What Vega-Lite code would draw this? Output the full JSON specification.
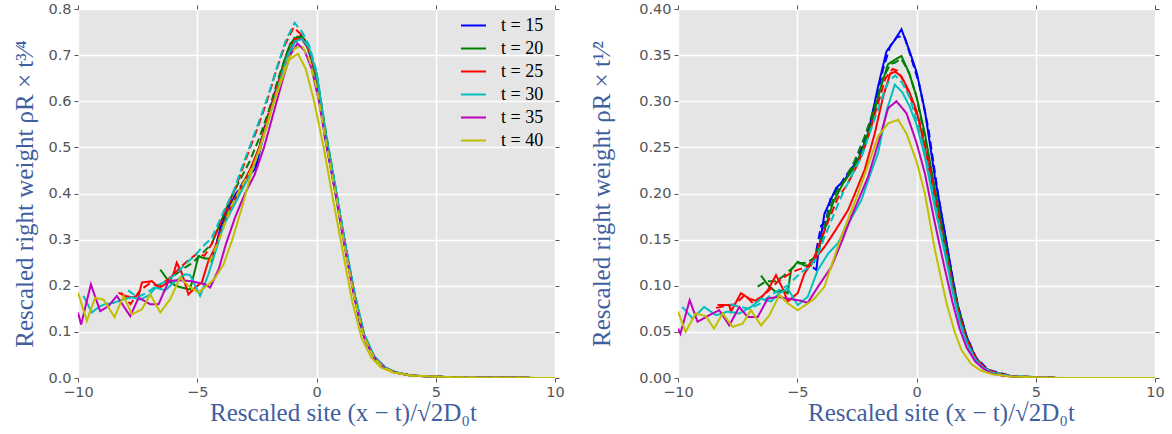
{
"$schema": "https://vega.github.io/schema/vega-lite/v6.json",
"background": "white",
"padding": {"left": 12, "top": 1, "right": 5, "bottom": 5},
"spacing": 24,
"config": {
  "view": {"fill": "#e5e5e5", "stroke": null},
  "axis": {"domain": false, "gridColor": "#ffffff", "gridWidth": 1.5, "tickColor": "#555555", "tickSize": 4, "labelColor": "#555555", "labelFont": "DejaVu Sans", "labelFontSize": 14.5, "labelPadding": 3, "labelFlush": false, "labelOverlap": false, "titleFont": "Liberation Serif", "titleFontSize": 25, "titleFontWeight": "normal", "titleColor": "#3f5f9f"}
},
"resolve": {"scale": {"color": "independent", "strokeDash": "independent"}},
"datasets": {
"pts": [
{"panel":"A","t":15,"style":"s","x":-4.4,"y":0.25},{"panel":"A","t":15,"style":"s","x":-4.2,"y":0.29},{"panel":"A","t":15,"style":"s","x":-4.0,"y":0.33},{"panel":"A","t":15,"style":"s","x":-3.8,"y":0.36},{"panel":"A","t":15,"style":"s","x":-3.6,"y":0.38},{"panel":"A","t":15,"style":"s","x":-3.2,"y":0.41},{"panel":"A","t":15,"style":"s","x":-2.8,"y":0.44},{"panel":"A","t":15,"style":"s","x":-2.55,"y":0.455},{"panel":"A","t":15,"style":"s","x":-2.2,"y":0.53},{"panel":"A","t":15,"style":"s","x":-1.8,"y":0.6},{"panel":"A","t":15,"style":"s","x":-1.5,"y":0.66},{"panel":"A","t":15,"style":"s","x":-1.2,"y":0.7},{"panel":"A","t":15,"style":"s","x":-0.9,"y":0.73},{"panel":"A","t":15,"style":"s","x":-0.64,"y":0.742},{"panel":"A","t":15,"style":"s","x":-0.3,"y":0.71},{"panel":"A","t":15,"style":"s","x":0,"y":0.65},{"panel":"A","t":15,"style":"s","x":0.36,"y":0.52},{"panel":"A","t":15,"style":"s","x":0.78,"y":0.405},{"panel":"A","t":15,"style":"s","x":1.06,"y":0.32},{"panel":"A","t":15,"style":"s","x":1.41,"y":0.225},{"panel":"A","t":15,"style":"s","x":1.83,"y":0.117},{"panel":"A","t":15,"style":"s","x":2.1,"y":0.075},{"panel":"A","t":15,"style":"s","x":2.46,"y":0.044},{"panel":"A","t":15,"style":"s","x":2.9,"y":0.022},{"panel":"A","t":15,"style":"s","x":3.3,"y":0.012},{"panel":"A","t":15,"style":"s","x":4,"y":0.005},{"panel":"A","t":15,"style":"s","x":6,"y":0.001},{"panel":"A","t":15,"style":"s","x":10,"y":0},
{"panel":"A","t":15,"style":"d","x":-4.3,"y":0.27},{"panel":"A","t":15,"style":"d","x":-3.9,"y":0.35},{"panel":"A","t":15,"style":"d","x":-3.5,"y":0.39},{"panel":"A","t":15,"style":"d","x":-3.0,"y":0.43},{"panel":"A","t":15,"style":"d","x":-2.6,"y":0.46},{"panel":"A","t":15,"style":"d","x":-2.2,"y":0.54},{"panel":"A","t":15,"style":"d","x":-1.8,"y":0.61},{"panel":"A","t":15,"style":"d","x":-1.4,"y":0.67},{"panel":"A","t":15,"style":"d","x":-1.0,"y":0.72},{"panel":"A","t":15,"style":"d","x":-0.7,"y":0.74},{"panel":"A","t":15,"style":"d","x":-0.4,"y":0.72},{"panel":"A","t":15,"style":"d","x":0,"y":0.655},{"panel":"A","t":15,"style":"d","x":0.4,"y":0.52},{"panel":"A","t":15,"style":"d","x":0.8,"y":0.4},{"panel":"A","t":15,"style":"d","x":1.2,"y":0.29},{"panel":"A","t":15,"style":"d","x":1.6,"y":0.18},{"panel":"A","t":15,"style":"d","x":2.0,"y":0.09},{"panel":"A","t":15,"style":"d","x":2.4,"y":0.046},{"panel":"A","t":15,"style":"d","x":2.8,"y":0.024},{"panel":"A","t":15,"style":"d","x":3.3,"y":0.012},{"panel":"A","t":15,"style":"d","x":4,"y":0.005},{"panel":"A","t":15,"style":"d","x":6,"y":0.001},{"panel":"A","t":15,"style":"d","x":10,"y":0},
{"panel":"A","t":20,"style":"s","x":-6.55,"y":0.235},{"panel":"A","t":20,"style":"s","x":-6.2,"y":0.21},{"panel":"A","t":20,"style":"s","x":-5.9,"y":0.2},{"panel":"A","t":20,"style":"s","x":-5.65,"y":0.196},{"panel":"A","t":20,"style":"s","x":-5.3,"y":0.192},{"panel":"A","t":20,"style":"s","x":-4.95,"y":0.264},{"panel":"A","t":20,"style":"s","x":-4.67,"y":0.259},{"panel":"A","t":20,"style":"s","x":-4.36,"y":0.259},{"panel":"A","t":20,"style":"s","x":-4.1,"y":0.3},{"panel":"A","t":20,"style":"s","x":-3.8,"y":0.35},{"panel":"A","t":20,"style":"s","x":-3.4,"y":0.39},{"panel":"A","t":20,"style":"s","x":-3.0,"y":0.43},{"panel":"A","t":20,"style":"s","x":-2.6,"y":0.47},{"panel":"A","t":20,"style":"s","x":-2.2,"y":0.53},{"panel":"A","t":20,"style":"s","x":-1.8,"y":0.6},{"panel":"A","t":20,"style":"s","x":-1.4,"y":0.68},{"panel":"A","t":20,"style":"s","x":-1.1,"y":0.725},{"panel":"A","t":20,"style":"s","x":-0.8,"y":0.74},{"panel":"A","t":20,"style":"s","x":-0.5,"y":0.735},{"panel":"A","t":20,"style":"s","x":-0.2,"y":0.69},{"panel":"A","t":20,"style":"s","x":0.1,"y":0.62},{"panel":"A","t":20,"style":"s","x":0.4,"y":0.52},{"panel":"A","t":20,"style":"s","x":0.8,"y":0.41},{"panel":"A","t":20,"style":"s","x":1.2,"y":0.29},{"panel":"A","t":20,"style":"s","x":1.6,"y":0.175},{"panel":"A","t":20,"style":"s","x":2.0,"y":0.09},{"panel":"A","t":20,"style":"s","x":2.4,"y":0.047},{"panel":"A","t":20,"style":"s","x":2.8,"y":0.024},{"panel":"A","t":20,"style":"s","x":3.3,"y":0.012},{"panel":"A","t":20,"style":"s","x":4,"y":0.005},{"panel":"A","t":20,"style":"s","x":6,"y":0.001},{"panel":"A","t":20,"style":"s","x":10,"y":0},
{"panel":"A","t":20,"style":"d","x":-6.3,"y":0.205},{"panel":"A","t":20,"style":"d","x":-5.9,"y":0.225},{"panel":"A","t":20,"style":"d","x":-5.5,"y":0.24},{"panel":"A","t":20,"style":"d","x":-5.2,"y":0.25},{"panel":"A","t":20,"style":"d","x":-4.8,"y":0.27},{"panel":"A","t":20,"style":"d","x":-4.4,"y":0.29},{"panel":"A","t":20,"style":"d","x":-4.0,"y":0.34},{"panel":"A","t":20,"style":"d","x":-3.6,"y":0.39},{"panel":"A","t":20,"style":"d","x":-3.2,"y":0.43},{"panel":"A","t":20,"style":"d","x":-2.8,"y":0.47},{"panel":"A","t":20,"style":"d","x":-2.4,"y":0.52},{"panel":"A","t":20,"style":"d","x":-2.0,"y":0.58},{"panel":"A","t":20,"style":"d","x":-1.6,"y":0.65},{"panel":"A","t":20,"style":"d","x":-1.2,"y":0.71},{"panel":"A","t":20,"style":"d","x":-0.9,"y":0.74},{"panel":"A","t":20,"style":"d","x":-0.6,"y":0.74},{"panel":"A","t":20,"style":"d","x":-0.3,"y":0.71},{"panel":"A","t":20,"style":"d","x":0,"y":0.66},{"panel":"A","t":20,"style":"d","x":0.4,"y":0.53},{"panel":"A","t":20,"style":"d","x":0.8,"y":0.41},{"panel":"A","t":20,"style":"d","x":1.2,"y":0.29},{"panel":"A","t":20,"style":"d","x":1.6,"y":0.18},{"panel":"A","t":20,"style":"d","x":2.0,"y":0.095},{"panel":"A","t":20,"style":"d","x":2.4,"y":0.048},{"panel":"A","t":20,"style":"d","x":2.8,"y":0.025},{"panel":"A","t":20,"style":"d","x":3.3,"y":0.012},{"panel":"A","t":20,"style":"d","x":4,"y":0.005},{"panel":"A","t":20,"style":"d","x":6,"y":0.001},{"panel":"A","t":20,"style":"d","x":10,"y":0},
{"panel":"A","t":25,"style":"s","x":-8.3,"y":0.185},{"panel":"A","t":25,"style":"s","x":-8.02,"y":0.178},{"panel":"A","t":25,"style":"s","x":-7.74,"y":0.175},{"panel":"A","t":25,"style":"s","x":-7.46,"y":0.178},{"panel":"A","t":25,"style":"s","x":-7.32,"y":0.207},{"panel":"A","t":25,"style":"s","x":-6.9,"y":0.21},{"panel":"A","t":25,"style":"s","x":-6.6,"y":0.195},{"panel":"A","t":25,"style":"s","x":-6.3,"y":0.205},{"panel":"A","t":25,"style":"s","x":-6.0,"y":0.225},{"panel":"A","t":25,"style":"s","x":-5.86,"y":0.25},{"panel":"A","t":25,"style":"s","x":-5.65,"y":0.228},{"panel":"A","t":25,"style":"s","x":-5.37,"y":0.181},{"panel":"A","t":25,"style":"s","x":-5.09,"y":0.196},{"panel":"A","t":25,"style":"s","x":-4.81,"y":0.207},{"panel":"A","t":25,"style":"s","x":-4.53,"y":0.254},{"panel":"A","t":25,"style":"s","x":-4.25,"y":0.283},{"panel":"A","t":25,"style":"s","x":-4.0,"y":0.32},{"panel":"A","t":25,"style":"s","x":-3.6,"y":0.37},{"panel":"A","t":25,"style":"s","x":-3.2,"y":0.41},{"panel":"A","t":25,"style":"s","x":-2.8,"y":0.45},{"panel":"A","t":25,"style":"s","x":-2.4,"y":0.5},{"panel":"A","t":25,"style":"s","x":-2.0,"y":0.57},{"panel":"A","t":25,"style":"s","x":-1.6,"y":0.64},{"panel":"A","t":25,"style":"s","x":-1.2,"y":0.7},{"panel":"A","t":25,"style":"s","x":-0.9,"y":0.735},{"panel":"A","t":25,"style":"s","x":-0.6,"y":0.735},{"panel":"A","t":25,"style":"s","x":-0.3,"y":0.71},{"panel":"A","t":25,"style":"s","x":0,"y":0.655},{"panel":"A","t":25,"style":"s","x":0.4,"y":0.52},{"panel":"A","t":25,"style":"s","x":0.8,"y":0.405},{"panel":"A","t":25,"style":"s","x":1.2,"y":0.285},{"panel":"A","t":25,"style":"s","x":1.6,"y":0.175},{"panel":"A","t":25,"style":"s","x":2.0,"y":0.09},{"panel":"A","t":25,"style":"s","x":2.4,"y":0.046},{"panel":"A","t":25,"style":"s","x":2.8,"y":0.024},{"panel":"A","t":25,"style":"s","x":3.3,"y":0.012},{"panel":"A","t":25,"style":"s","x":4,"y":0.005},{"panel":"A","t":25,"style":"s","x":6,"y":0.001},{"panel":"A","t":25,"style":"s","x":10,"y":0},
{"panel":"A","t":25,"style":"d","x":-8.2,"y":0.185},{"panel":"A","t":25,"style":"d","x":-7.8,"y":0.16},{"panel":"A","t":25,"style":"d","x":-7.4,"y":0.19},{"panel":"A","t":25,"style":"d","x":-7.0,"y":0.205},{"panel":"A","t":25,"style":"d","x":-6.6,"y":0.2},{"panel":"A","t":25,"style":"d","x":-6.2,"y":0.215},{"panel":"A","t":25,"style":"d","x":-5.8,"y":0.235},{"panel":"A","t":25,"style":"d","x":-5.4,"y":0.254},{"panel":"A","t":25,"style":"d","x":-5.0,"y":0.27},{"panel":"A","t":25,"style":"d","x":-4.7,"y":0.265},{"panel":"A","t":25,"style":"d","x":-4.4,"y":0.29},{"panel":"A","t":25,"style":"d","x":-4.0,"y":0.34},{"panel":"A","t":25,"style":"d","x":-3.6,"y":0.385},{"panel":"A","t":25,"style":"d","x":-3.2,"y":0.44},{"panel":"A","t":25,"style":"d","x":-2.85,"y":0.49},{"panel":"A","t":25,"style":"d","x":-2.45,"y":0.545},{"panel":"A","t":25,"style":"d","x":-2.08,"y":0.6},{"panel":"A","t":25,"style":"d","x":-1.7,"y":0.665},{"panel":"A","t":25,"style":"d","x":-1.3,"y":0.725},{"panel":"A","t":25,"style":"d","x":-0.96,"y":0.76},{"panel":"A","t":25,"style":"d","x":-0.65,"y":0.745},{"panel":"A","t":25,"style":"d","x":-0.3,"y":0.71},{"panel":"A","t":25,"style":"d","x":0,"y":0.66},{"panel":"A","t":25,"style":"d","x":0.4,"y":0.525},{"panel":"A","t":25,"style":"d","x":0.8,"y":0.41},{"panel":"A","t":25,"style":"d","x":1.2,"y":0.29},{"panel":"A","t":25,"style":"d","x":1.6,"y":0.18},{"panel":"A","t":25,"style":"d","x":2.0,"y":0.093},{"panel":"A","t":25,"style":"d","x":2.4,"y":0.048},{"panel":"A","t":25,"style":"d","x":2.8,"y":0.025},{"panel":"A","t":25,"style":"d","x":3.3,"y":0.012},{"panel":"A","t":25,"style":"d","x":4,"y":0.005},{"panel":"A","t":25,"style":"d","x":6,"y":0.001},{"panel":"A","t":25,"style":"d","x":10,"y":0},
{"panel":"A","t":30,"style":"s","x":-9.77,"y":0.178},{"panel":"A","t":30,"style":"s","x":-9.42,"y":0.142},{"panel":"A","t":30,"style":"s","x":-9.1,"y":0.155},{"panel":"A","t":30,"style":"s","x":-8.86,"y":0.16},{"panel":"A","t":30,"style":"s","x":-8.51,"y":0.163},{"panel":"A","t":30,"style":"s","x":-8.1,"y":0.17},{"panel":"A","t":30,"style":"s","x":-7.74,"y":0.175},{"panel":"A","t":30,"style":"s","x":-7.4,"y":0.17},{"panel":"A","t":30,"style":"s","x":-7.0,"y":0.18},{"panel":"A","t":30,"style":"s","x":-6.76,"y":0.196},{"panel":"A","t":30,"style":"s","x":-6.34,"y":0.19},{"panel":"A","t":30,"style":"s","x":-5.92,"y":0.21},{"panel":"A","t":30,"style":"s","x":-5.5,"y":0.225},{"panel":"A","t":30,"style":"s","x":-5.3,"y":0.223},{"panel":"A","t":30,"style":"s","x":-4.88,"y":0.178},{"panel":"A","t":30,"style":"s","x":-4.53,"y":0.225},{"panel":"A","t":30,"style":"s","x":-4.2,"y":0.28},{"panel":"A","t":30,"style":"s","x":-3.9,"y":0.33},{"panel":"A","t":30,"style":"s","x":-3.5,"y":0.37},{"panel":"A","t":30,"style":"s","x":-3.1,"y":0.41},{"panel":"A","t":30,"style":"s","x":-2.7,"y":0.45},{"panel":"A","t":30,"style":"s","x":-2.3,"y":0.51},{"panel":"A","t":30,"style":"s","x":-1.9,"y":0.58},{"panel":"A","t":30,"style":"s","x":-1.5,"y":0.65},{"panel":"A","t":30,"style":"s","x":-1.2,"y":0.7},{"panel":"A","t":30,"style":"s","x":-0.9,"y":0.73},{"panel":"A","t":30,"style":"s","x":-0.6,"y":0.735},{"panel":"A","t":30,"style":"s","x":-0.3,"y":0.715},{"panel":"A","t":30,"style":"s","x":0,"y":0.66},{"panel":"A","t":30,"style":"s","x":0.4,"y":0.525},{"panel":"A","t":30,"style":"s","x":0.8,"y":0.41},{"panel":"A","t":30,"style":"s","x":1.2,"y":0.29},{"panel":"A","t":30,"style":"s","x":1.6,"y":0.18},{"panel":"A","t":30,"style":"s","x":2.0,"y":0.093},{"panel":"A","t":30,"style":"s","x":2.4,"y":0.048},{"panel":"A","t":30,"style":"s","x":2.8,"y":0.025},{"panel":"A","t":30,"style":"s","x":3.3,"y":0.013},{"panel":"A","t":30,"style":"s","x":4,"y":0.005},{"panel":"A","t":30,"style":"s","x":6,"y":0.001},{"panel":"A","t":30,"style":"s","x":10,"y":0},
{"panel":"A","t":30,"style":"d","x":-7.9,"y":0.19},{"panel":"A","t":30,"style":"d","x":-7.5,"y":0.175},{"panel":"A","t":30,"style":"d","x":-7.1,"y":0.185},{"panel":"A","t":30,"style":"d","x":-6.7,"y":0.2},{"panel":"A","t":30,"style":"d","x":-6.3,"y":0.21},{"panel":"A","t":30,"style":"d","x":-5.9,"y":0.225},{"panel":"A","t":30,"style":"d","x":-5.44,"y":0.25},{"panel":"A","t":30,"style":"d","x":-5.1,"y":0.265},{"panel":"A","t":30,"style":"d","x":-4.81,"y":0.283},{"panel":"A","t":30,"style":"d","x":-4.39,"y":0.304},{"panel":"A","t":30,"style":"d","x":-3.9,"y":0.36},{"panel":"A","t":30,"style":"d","x":-3.48,"y":0.405},{"panel":"A","t":30,"style":"d","x":-3.1,"y":0.46},{"panel":"A","t":30,"style":"d","x":-2.71,"y":0.514},{"panel":"A","t":30,"style":"d","x":-2.35,"y":0.565},{"panel":"A","t":30,"style":"d","x":-2.01,"y":0.615},{"panel":"A","t":30,"style":"d","x":-1.65,"y":0.675},{"panel":"A","t":30,"style":"d","x":-1.3,"y":0.73},{"panel":"A","t":30,"style":"d","x":-0.92,"y":0.77},{"panel":"A","t":30,"style":"d","x":-0.6,"y":0.75},{"panel":"A","t":30,"style":"d","x":-0.3,"y":0.72},{"panel":"A","t":30,"style":"d","x":0,"y":0.665},{"panel":"A","t":30,"style":"d","x":0.4,"y":0.53},{"panel":"A","t":30,"style":"d","x":0.8,"y":0.415},{"panel":"A","t":30,"style":"d","x":1.2,"y":0.295},{"panel":"A","t":30,"style":"d","x":1.6,"y":0.185},{"panel":"A","t":30,"style":"d","x":2.0,"y":0.095},{"panel":"A","t":30,"style":"d","x":2.4,"y":0.049},{"panel":"A","t":30,"style":"d","x":2.8,"y":0.025},{"panel":"A","t":30,"style":"d","x":3.3,"y":0.013},{"panel":"A","t":30,"style":"d","x":4,"y":0.005},{"panel":"A","t":30,"style":"d","x":6,"y":0.001},{"panel":"A","t":30,"style":"d","x":10,"y":0},
{"panel":"A","t":35,"style":"s","x":-10,"y":0.142},{"panel":"A","t":35,"style":"s","x":-9.87,"y":0.116},{"panel":"A","t":35,"style":"s","x":-9.46,"y":0.203},{"panel":"A","t":35,"style":"s","x":-9.07,"y":0.145},{"panel":"A","t":35,"style":"s","x":-8.72,"y":0.156},{"panel":"A","t":35,"style":"s","x":-8.37,"y":0.178},{"panel":"A","t":35,"style":"s","x":-7.81,"y":0.134},{"panel":"A","t":35,"style":"s","x":-7.46,"y":0.174},{"panel":"A","t":35,"style":"s","x":-6.97,"y":0.16},{"panel":"A","t":35,"style":"s","x":-6.62,"y":0.16},{"panel":"A","t":35,"style":"s","x":-6.2,"y":0.21},{"panel":"A","t":35,"style":"s","x":-5.79,"y":0.212},{"panel":"A","t":35,"style":"s","x":-5.23,"y":0.21},{"panel":"A","t":35,"style":"s","x":-4.67,"y":0.203},{"panel":"A","t":35,"style":"s","x":-4.46,"y":0.196},{"panel":"A","t":35,"style":"s","x":-4.1,"y":0.236},{"panel":"A","t":35,"style":"s","x":-3.8,"y":0.29},{"panel":"A","t":35,"style":"s","x":-3.4,"y":0.35},{"panel":"A","t":35,"style":"s","x":-3.0,"y":0.4},{"panel":"A","t":35,"style":"s","x":-2.6,"y":0.44},{"panel":"A","t":35,"style":"s","x":-2.2,"y":0.5},{"panel":"A","t":35,"style":"s","x":-1.8,"y":0.575},{"panel":"A","t":35,"style":"s","x":-1.4,"y":0.65},{"panel":"A","t":35,"style":"s","x":-1.1,"y":0.7},{"panel":"A","t":35,"style":"s","x":-0.8,"y":0.725},{"panel":"A","t":35,"style":"s","x":-0.5,"y":0.71},{"panel":"A","t":35,"style":"s","x":-0.2,"y":0.67},{"panel":"A","t":35,"style":"s","x":0.1,"y":0.6},{"panel":"A","t":35,"style":"s","x":0.4,"y":0.51},{"panel":"A","t":35,"style":"s","x":0.8,"y":0.4},{"panel":"A","t":35,"style":"s","x":1.2,"y":0.28},{"panel":"A","t":35,"style":"s","x":1.6,"y":0.17},{"panel":"A","t":35,"style":"s","x":2.0,"y":0.088},{"panel":"A","t":35,"style":"s","x":2.4,"y":0.045},{"panel":"A","t":35,"style":"s","x":2.8,"y":0.023},{"panel":"A","t":35,"style":"s","x":3.3,"y":0.012},{"panel":"A","t":35,"style":"s","x":4,"y":0.005},{"panel":"A","t":35,"style":"s","x":6,"y":0.001},{"panel":"A","t":35,"style":"s","x":10,"y":0},
{"panel":"A","t":40,"style":"s","x":-10,"y":0.185},{"panel":"A","t":40,"style":"s","x":-9.63,"y":0.124},{"panel":"A","t":40,"style":"s","x":-9.28,"y":0.174},{"panel":"A","t":40,"style":"s","x":-8.93,"y":0.17},{"panel":"A","t":40,"style":"s","x":-8.47,"y":0.132},{"panel":"A","t":40,"style":"s","x":-8.09,"y":0.178},{"panel":"A","t":40,"style":"s","x":-7.74,"y":0.138},{"panel":"A","t":40,"style":"s","x":-7.32,"y":0.149},{"panel":"A","t":40,"style":"s","x":-6.97,"y":0.181},{"panel":"A","t":40,"style":"s","x":-6.55,"y":0.142},{"panel":"A","t":40,"style":"s","x":-6.13,"y":0.171},{"panel":"A","t":40,"style":"s","x":-5.72,"y":0.218},{"panel":"A","t":40,"style":"s","x":-5.37,"y":0.2},{"panel":"A","t":40,"style":"s","x":-4.95,"y":0.185},{"panel":"A","t":40,"style":"s","x":-4.53,"y":0.203},{"panel":"A","t":40,"style":"s","x":-4.25,"y":0.217},{"panel":"A","t":40,"style":"s","x":-3.9,"y":0.246},{"panel":"A","t":40,"style":"s","x":-3.55,"y":0.297},{"panel":"A","t":40,"style":"s","x":-3.13,"y":0.369},{"panel":"A","t":40,"style":"s","x":-2.71,"y":0.449},{"panel":"A","t":40,"style":"s","x":-2.3,"y":0.51},{"panel":"A","t":40,"style":"s","x":-1.9,"y":0.58},{"panel":"A","t":40,"style":"s","x":-1.5,"y":0.64},{"panel":"A","t":40,"style":"s","x":-1.15,"y":0.69},{"panel":"A","t":40,"style":"s","x":-0.78,"y":0.703},{"panel":"A","t":40,"style":"s","x":-0.45,"y":0.67},{"panel":"A","t":40,"style":"s","x":-0.1,"y":0.6},{"panel":"A","t":40,"style":"s","x":0.3,"y":0.5},{"panel":"A","t":40,"style":"s","x":0.7,"y":0.385},{"panel":"A","t":40,"style":"s","x":1.1,"y":0.275},{"panel":"A","t":40,"style":"s","x":1.5,"y":0.165},{"panel":"A","t":40,"style":"s","x":1.9,"y":0.085},{"panel":"A","t":40,"style":"s","x":2.3,"y":0.044},{"panel":"A","t":40,"style":"s","x":2.7,"y":0.023},{"panel":"A","t":40,"style":"s","x":3.2,"y":0.012},{"panel":"A","t":40,"style":"s","x":4,"y":0.005},{"panel":"A","t":40,"style":"s","x":6,"y":0.001},{"panel":"A","t":40,"style":"s","x":10,"y":0},
{"panel":"A","t":40,"style":"d","x":-4.5,"y":0.25},{"panel":"A","t":40,"style":"d","x":-4.0,"y":0.31},{"panel":"A","t":40,"style":"d","x":-3.6,"y":0.37},{"panel":"A","t":40,"style":"d","x":-3.2,"y":0.41},{"panel":"A","t":40,"style":"d","x":-2.8,"y":0.445},{"panel":"A","t":40,"style":"d","x":-2.4,"y":0.49},{"panel":"A","t":40,"style":"d","x":-2.0,"y":0.56},{"panel":"A","t":40,"style":"d","x":-1.6,"y":0.63},{"panel":"A","t":40,"style":"d","x":-1.2,"y":0.69},{"panel":"A","t":40,"style":"d","x":-0.9,"y":0.715},{"panel":"A","t":40,"style":"d","x":-0.6,"y":0.72},{"panel":"A","t":40,"style":"d","x":-0.3,"y":0.69},{"panel":"A","t":40,"style":"d","x":0,"y":0.63},{"panel":"A","t":40,"style":"d","x":0.4,"y":0.51},{"panel":"A","t":40,"style":"d","x":0.8,"y":0.4},{"panel":"A","t":40,"style":"d","x":1.2,"y":0.28},{"panel":"A","t":40,"style":"d","x":1.6,"y":0.17},{"panel":"A","t":40,"style":"d","x":2.0,"y":0.088},{"panel":"A","t":40,"style":"d","x":2.4,"y":0.045},{"panel":"A","t":40,"style":"d","x":2.8,"y":0.023},{"panel":"A","t":40,"style":"d","x":3.3,"y":0.012},{"panel":"A","t":40,"style":"d","x":4,"y":0.005},{"panel":"A","t":40,"style":"d","x":6,"y":0.001},{"panel":"A","t":40,"style":"d","x":10,"y":0},
{"panel":"B","t":15,"style":"s","x":-4.34,"y":0.12},{"panel":"B","t":15,"style":"s","x":-4.2,"y":0.117},{"panel":"B","t":15,"style":"s","x":-4.14,"y":0.131},{"panel":"B","t":15,"style":"s","x":-3.86,"y":0.178},{"panel":"B","t":15,"style":"s","x":-3.72,"y":0.186},{"panel":"B","t":15,"style":"s","x":-3.37,"y":0.206},{"panel":"B","t":15,"style":"s","x":-3.0,"y":0.215},{"panel":"B","t":15,"style":"s","x":-2.7,"y":0.228},{"panel":"B","t":15,"style":"s","x":-2.45,"y":0.236},{"panel":"B","t":15,"style":"s","x":-2.03,"y":0.265},{"panel":"B","t":15,"style":"s","x":-1.61,"y":0.316},{"panel":"B","t":15,"style":"s","x":-1.26,"y":0.354},{"panel":"B","t":15,"style":"s","x":-0.95,"y":0.365},{"panel":"B","t":15,"style":"s","x":-0.63,"y":0.378},{"panel":"B","t":15,"style":"s","x":-0.3,"y":0.355},{"panel":"B","t":15,"style":"s","x":0,"y":0.332},{"panel":"B","t":15,"style":"s","x":0.35,"y":0.29},{"panel":"B","t":15,"style":"s","x":0.77,"y":0.218},{"panel":"B","t":15,"style":"s","x":1.19,"y":0.157},{"panel":"B","t":15,"style":"s","x":1.5,"y":0.11},{"panel":"B","t":15,"style":"s","x":1.75,"y":0.077},{"panel":"B","t":15,"style":"s","x":2.1,"y":0.045},{"panel":"B","t":15,"style":"s","x":2.46,"y":0.023},{"panel":"B","t":15,"style":"s","x":2.8,"y":0.012},{"panel":"B","t":15,"style":"s","x":3.16,"y":0.0065},{"panel":"B","t":15,"style":"s","x":3.6,"y":0.003},{"panel":"B","t":15,"style":"s","x":4.4,"y":0.001},{"panel":"B","t":15,"style":"s","x":6,"y":0},{"panel":"B","t":15,"style":"s","x":10,"y":0},
{"panel":"B","t":15,"style":"d","x":-4.3,"y":0.125},{"panel":"B","t":15,"style":"d","x":-4.0,"y":0.165},{"panel":"B","t":15,"style":"d","x":-3.8,"y":0.17},{"panel":"B","t":15,"style":"d","x":-3.6,"y":0.195},{"panel":"B","t":15,"style":"d","x":-3.3,"y":0.205},{"panel":"B","t":15,"style":"d","x":-3.0,"y":0.218},{"panel":"B","t":15,"style":"d","x":-2.6,"y":0.232},{"panel":"B","t":15,"style":"d","x":-2.2,"y":0.255},{"panel":"B","t":15,"style":"d","x":-1.8,"y":0.29},{"panel":"B","t":15,"style":"d","x":-1.4,"y":0.335},{"panel":"B","t":15,"style":"d","x":-1.1,"y":0.36},{"panel":"B","t":15,"style":"d","x":-0.8,"y":0.37},{"panel":"B","t":15,"style":"d","x":-0.5,"y":0.37},{"panel":"B","t":15,"style":"d","x":-0.2,"y":0.345},{"panel":"B","t":15,"style":"d","x":0.1,"y":0.32},{"panel":"B","t":15,"style":"d","x":0.5,"y":0.27},{"panel":"B","t":15,"style":"d","x":0.9,"y":0.2},{"panel":"B","t":15,"style":"d","x":1.3,"y":0.14},{"panel":"B","t":15,"style":"d","x":1.7,"y":0.082},{"panel":"B","t":15,"style":"d","x":2.1,"y":0.045},{"panel":"B","t":15,"style":"d","x":2.5,"y":0.022},{"panel":"B","t":15,"style":"d","x":3.0,"y":0.009},{"panel":"B","t":15,"style":"d","x":4,"y":0.002},{"panel":"B","t":15,"style":"d","x":6,"y":0},{"panel":"B","t":15,"style":"d","x":10,"y":0},
{"panel":"B","t":20,"style":"s","x":-6.52,"y":0.111},{"panel":"B","t":20,"style":"s","x":-6.2,"y":0.1},{"panel":"B","t":20,"style":"s","x":-5.89,"y":0.093},{"panel":"B","t":20,"style":"s","x":-5.6,"y":0.095},{"panel":"B","t":20,"style":"s","x":-5.4,"y":0.092},{"panel":"B","t":20,"style":"s","x":-5.26,"y":0.117},{"panel":"B","t":20,"style":"s","x":-4.98,"y":0.126},{"panel":"B","t":20,"style":"s","x":-4.7,"y":0.122},{"panel":"B","t":20,"style":"s","x":-4.42,"y":0.122},{"panel":"B","t":20,"style":"s","x":-4.1,"y":0.14},{"panel":"B","t":20,"style":"s","x":-3.8,"y":0.165},{"panel":"B","t":20,"style":"s","x":-3.5,"y":0.19},{"panel":"B","t":20,"style":"s","x":-3.1,"y":0.21},{"panel":"B","t":20,"style":"s","x":-2.7,"y":0.225},{"panel":"B","t":20,"style":"s","x":-2.3,"y":0.245},{"panel":"B","t":20,"style":"s","x":-1.9,"y":0.275},{"panel":"B","t":20,"style":"s","x":-1.5,"y":0.315},{"panel":"B","t":20,"style":"s","x":-1.2,"y":0.34},{"panel":"B","t":20,"style":"s","x":-0.9,"y":0.345},{"panel":"B","t":20,"style":"s","x":-0.63,"y":0.349},{"panel":"B","t":20,"style":"s","x":-0.3,"y":0.33},{"panel":"B","t":20,"style":"s","x":0,"y":0.305},{"panel":"B","t":20,"style":"s","x":0.35,"y":0.265},{"panel":"B","t":20,"style":"s","x":0.77,"y":0.205},{"panel":"B","t":20,"style":"s","x":1.19,"y":0.148},{"panel":"B","t":20,"style":"s","x":1.5,"y":0.105},{"panel":"B","t":20,"style":"s","x":1.8,"y":0.07},{"panel":"B","t":20,"style":"s","x":2.1,"y":0.043},{"panel":"B","t":20,"style":"s","x":2.46,"y":0.022},{"panel":"B","t":20,"style":"s","x":2.8,"y":0.012},{"panel":"B","t":20,"style":"s","x":3.16,"y":0.0065},{"panel":"B","t":20,"style":"s","x":3.6,"y":0.003},{"panel":"B","t":20,"style":"s","x":4.4,"y":0.001},{"panel":"B","t":20,"style":"s","x":6,"y":0},{"panel":"B","t":20,"style":"s","x":10,"y":0},
{"panel":"B","t":20,"style":"d","x":-6.66,"y":0.099},{"panel":"B","t":20,"style":"d","x":-6.3,"y":0.105},{"panel":"B","t":20,"style":"d","x":-5.9,"y":0.105},{"panel":"B","t":20,"style":"d","x":-5.6,"y":0.11},{"panel":"B","t":20,"style":"d","x":-5.26,"y":0.118},{"panel":"B","t":20,"style":"d","x":-4.98,"y":0.124},{"panel":"B","t":20,"style":"d","x":-4.6,"y":0.125},{"panel":"B","t":20,"style":"d","x":-4.3,"y":0.13},{"panel":"B","t":20,"style":"d","x":-4.0,"y":0.15},{"panel":"B","t":20,"style":"d","x":-3.7,"y":0.18},{"panel":"B","t":20,"style":"d","x":-3.4,"y":0.2},{"panel":"B","t":20,"style":"d","x":-3.0,"y":0.215},{"panel":"B","t":20,"style":"d","x":-2.6,"y":0.235},{"panel":"B","t":20,"style":"d","x":-2.2,"y":0.26},{"panel":"B","t":20,"style":"d","x":-1.8,"y":0.29},{"panel":"B","t":20,"style":"d","x":-1.4,"y":0.325},{"panel":"B","t":20,"style":"d","x":-1.1,"y":0.34},{"panel":"B","t":20,"style":"d","x":-0.9,"y":0.342},{"panel":"B","t":20,"style":"d","x":-0.63,"y":0.346},{"panel":"B","t":20,"style":"d","x":-0.3,"y":0.33},{"panel":"B","t":20,"style":"d","x":0,"y":0.305},{"panel":"B","t":20,"style":"d","x":0.35,"y":0.26},{"panel":"B","t":20,"style":"d","x":0.77,"y":0.2},{"panel":"B","t":20,"style":"d","x":1.19,"y":0.145},{"panel":"B","t":20,"style":"d","x":1.5,"y":0.103},{"panel":"B","t":20,"style":"d","x":1.8,"y":0.068},{"panel":"B","t":20,"style":"d","x":2.1,"y":0.042},{"panel":"B","t":20,"style":"d","x":2.46,"y":0.022},{"panel":"B","t":20,"style":"d","x":2.8,"y":0.012},{"panel":"B","t":20,"style":"d","x":3.16,"y":0.0065},{"panel":"B","t":20,"style":"d","x":4,"y":0.002},{"panel":"B","t":20,"style":"d","x":6,"y":0},{"panel":"B","t":20,"style":"d","x":10,"y":0},
{"panel":"B","t":25,"style":"s","x":-8.34,"y":0.079},{"panel":"B","t":25,"style":"s","x":-7.85,"y":0.079},{"panel":"B","t":25,"style":"s","x":-7.78,"y":0.072},{"panel":"B","t":25,"style":"s","x":-7.36,"y":0.092},{"panel":"B","t":25,"style":"s","x":-7.01,"y":0.086},{"panel":"B","t":25,"style":"s","x":-6.66,"y":0.083},{"panel":"B","t":25,"style":"s","x":-6.24,"y":0.095},{"panel":"B","t":25,"style":"s","x":-5.89,"y":0.1115},{"panel":"B","t":25,"style":"s","x":-5.61,"y":0.097},{"panel":"B","t":25,"style":"s","x":-5.4,"y":0.083},{"panel":"B","t":25,"style":"s","x":-4.98,"y":0.092},{"panel":"B","t":25,"style":"s","x":-4.7,"y":0.113},{"panel":"B","t":25,"style":"s","x":-4.4,"y":0.125},{"panel":"B","t":25,"style":"s","x":-3.86,"y":0.142},{"panel":"B","t":25,"style":"s","x":-3.4,"y":0.16},{"panel":"B","t":25,"style":"s","x":-2.87,"y":0.182},{"panel":"B","t":25,"style":"s","x":-2.5,"y":0.205},{"panel":"B","t":25,"style":"s","x":-2.17,"y":0.226},{"panel":"B","t":25,"style":"s","x":-1.75,"y":0.265},{"panel":"B","t":25,"style":"s","x":-1.4,"y":0.305},{"panel":"B","t":25,"style":"s","x":-1.1,"y":0.33},{"panel":"B","t":25,"style":"s","x":-0.9,"y":0.332},{"panel":"B","t":25,"style":"s","x":-0.63,"y":0.327},{"panel":"B","t":25,"style":"s","x":-0.3,"y":0.31},{"panel":"B","t":25,"style":"s","x":0,"y":0.29},{"panel":"B","t":25,"style":"s","x":0.35,"y":0.25},{"panel":"B","t":25,"style":"s","x":0.77,"y":0.195},{"panel":"B","t":25,"style":"s","x":1.19,"y":0.14},{"panel":"B","t":25,"style":"s","x":1.5,"y":0.1},{"panel":"B","t":25,"style":"s","x":1.8,"y":0.065},{"panel":"B","t":25,"style":"s","x":2.1,"y":0.04},{"panel":"B","t":25,"style":"s","x":2.46,"y":0.021},{"panel":"B","t":25,"style":"s","x":2.8,"y":0.011},{"panel":"B","t":25,"style":"s","x":3.16,"y":0.006},{"panel":"B","t":25,"style":"s","x":3.6,"y":0.003},{"panel":"B","t":25,"style":"s","x":4.4,"y":0.001},{"panel":"B","t":25,"style":"s","x":6,"y":0},{"panel":"B","t":25,"style":"s","x":10,"y":0},
{"panel":"B","t":25,"style":"d","x":-8.4,"y":0.076},{"panel":"B","t":25,"style":"d","x":-8.0,"y":0.078},{"panel":"B","t":25,"style":"d","x":-7.6,"y":0.08},{"panel":"B","t":25,"style":"d","x":-7.2,"y":0.09},{"panel":"B","t":25,"style":"d","x":-6.9,"y":0.082},{"panel":"B","t":25,"style":"d","x":-6.5,"y":0.088},{"panel":"B","t":25,"style":"d","x":-6.1,"y":0.097},{"panel":"B","t":25,"style":"d","x":-5.8,"y":0.105},{"panel":"B","t":25,"style":"d","x":-5.5,"y":0.11},{"panel":"B","t":25,"style":"d","x":-5.2,"y":0.115},{"panel":"B","t":25,"style":"d","x":-4.9,"y":0.118},{"panel":"B","t":25,"style":"d","x":-4.6,"y":0.12},{"panel":"B","t":25,"style":"d","x":-4.3,"y":0.13},{"panel":"B","t":25,"style":"d","x":-4.0,"y":0.15},{"panel":"B","t":25,"style":"d","x":-3.7,"y":0.17},{"panel":"B","t":25,"style":"d","x":-3.3,"y":0.195},{"panel":"B","t":25,"style":"d","x":-2.9,"y":0.21},{"panel":"B","t":25,"style":"d","x":-2.5,"y":0.23},{"panel":"B","t":25,"style":"d","x":-2.1,"y":0.255},{"panel":"B","t":25,"style":"d","x":-1.7,"y":0.29},{"panel":"B","t":25,"style":"d","x":-1.3,"y":0.325},{"panel":"B","t":25,"style":"d","x":-1.0,"y":0.335},{"panel":"B","t":25,"style":"d","x":-0.8,"y":0.333},{"panel":"B","t":25,"style":"d","x":-0.5,"y":0.32},{"panel":"B","t":25,"style":"d","x":-0.2,"y":0.3},{"panel":"B","t":25,"style":"d","x":0.1,"y":0.28},{"panel":"B","t":25,"style":"d","x":0.5,"y":0.235},{"panel":"B","t":25,"style":"d","x":0.9,"y":0.18},{"panel":"B","t":25,"style":"d","x":1.3,"y":0.125},{"panel":"B","t":25,"style":"d","x":1.7,"y":0.075},{"panel":"B","t":25,"style":"d","x":2.1,"y":0.042},{"panel":"B","t":25,"style":"d","x":2.5,"y":0.021},{"panel":"B","t":25,"style":"d","x":2.9,"y":0.01},{"panel":"B","t":25,"style":"d","x":3.4,"y":0.005},{"panel":"B","t":25,"style":"d","x":4,"y":0.002},{"panel":"B","t":25,"style":"d","x":6,"y":0},{"panel":"B","t":25,"style":"d","x":10,"y":0},
{"panel":"B","t":30,"style":"s","x":-9.82,"y":0.077},{"panel":"B","t":30,"style":"s","x":-9.39,"y":0.0645},{"panel":"B","t":30,"style":"s","x":-8.9,"y":0.077},{"panel":"B","t":30,"style":"s","x":-8.4,"y":0.068},{"panel":"B","t":30,"style":"s","x":-7.92,"y":0.072},{"panel":"B","t":30,"style":"s","x":-7.43,"y":0.07},{"panel":"B","t":30,"style":"s","x":-6.94,"y":0.077},{"panel":"B","t":30,"style":"s","x":-6.52,"y":0.086},{"panel":"B","t":30,"style":"s","x":-6.1,"y":0.083},{"panel":"B","t":30,"style":"s","x":-5.75,"y":0.092},{"panel":"B","t":30,"style":"s","x":-5.4,"y":0.097},{"panel":"B","t":30,"style":"s","x":-4.98,"y":0.079},{"panel":"B","t":30,"style":"s","x":-4.56,"y":0.088},{"panel":"B","t":30,"style":"s","x":-4.14,"y":0.117},{"panel":"B","t":30,"style":"s","x":-3.7,"y":0.135},{"panel":"B","t":30,"style":"s","x":-3.3,"y":0.146},{"panel":"B","t":30,"style":"s","x":-2.8,"y":0.17},{"panel":"B","t":30,"style":"s","x":-2.31,"y":0.193},{"panel":"B","t":30,"style":"s","x":-1.95,"y":0.22},{"panel":"B","t":30,"style":"s","x":-1.61,"y":0.244},{"panel":"B","t":30,"style":"s","x":-1.25,"y":0.29},{"panel":"B","t":30,"style":"s","x":-0.91,"y":0.318},{"panel":"B","t":30,"style":"s","x":-0.6,"y":0.31},{"panel":"B","t":30,"style":"s","x":-0.3,"y":0.295},{"panel":"B","t":30,"style":"s","x":0,"y":0.275},{"panel":"B","t":30,"style":"s","x":0.35,"y":0.24},{"panel":"B","t":30,"style":"s","x":0.77,"y":0.185},{"panel":"B","t":30,"style":"s","x":1.19,"y":0.135},{"panel":"B","t":30,"style":"s","x":1.5,"y":0.095},{"panel":"B","t":30,"style":"s","x":1.8,"y":0.062},{"panel":"B","t":30,"style":"s","x":2.1,"y":0.038},{"panel":"B","t":30,"style":"s","x":2.46,"y":0.02},{"panel":"B","t":30,"style":"s","x":2.8,"y":0.011},{"panel":"B","t":30,"style":"s","x":3.16,"y":0.006},{"panel":"B","t":30,"style":"s","x":3.6,"y":0.003},{"panel":"B","t":30,"style":"s","x":4.4,"y":0.001},{"panel":"B","t":30,"style":"s","x":6,"y":0},{"panel":"B","t":30,"style":"s","x":10,"y":0},
{"panel":"B","t":30,"style":"d","x":-7.8,"y":0.08},{"panel":"B","t":30,"style":"d","x":-7.4,"y":0.077},{"panel":"B","t":30,"style":"d","x":-7.0,"y":0.075},{"panel":"B","t":30,"style":"d","x":-6.6,"y":0.08},{"panel":"B","t":30,"style":"d","x":-6.2,"y":0.088},{"panel":"B","t":30,"style":"d","x":-5.8,"y":0.095},{"panel":"B","t":30,"style":"d","x":-5.4,"y":0.1},{"panel":"B","t":30,"style":"d","x":-5.1,"y":0.108},{"panel":"B","t":30,"style":"d","x":-4.8,"y":0.115},{"panel":"B","t":30,"style":"d","x":-4.5,"y":0.12},{"panel":"B","t":30,"style":"d","x":-4.2,"y":0.13},{"panel":"B","t":30,"style":"d","x":-3.9,"y":0.15},{"panel":"B","t":30,"style":"d","x":-3.5,"y":0.175},{"panel":"B","t":30,"style":"d","x":-3.1,"y":0.2},{"panel":"B","t":30,"style":"d","x":-2.7,"y":0.22},{"panel":"B","t":30,"style":"d","x":-2.3,"y":0.24},{"panel":"B","t":30,"style":"d","x":-1.9,"y":0.27},{"panel":"B","t":30,"style":"d","x":-1.5,"y":0.3},{"panel":"B","t":30,"style":"d","x":-1.2,"y":0.32},{"panel":"B","t":30,"style":"d","x":-0.9,"y":0.328},{"panel":"B","t":30,"style":"d","x":-0.6,"y":0.32},{"panel":"B","t":30,"style":"d","x":-0.3,"y":0.305},{"panel":"B","t":30,"style":"d","x":0,"y":0.28},{"panel":"B","t":30,"style":"d","x":0.35,"y":0.245},{"panel":"B","t":30,"style":"d","x":0.77,"y":0.19},{"panel":"B","t":30,"style":"d","x":1.19,"y":0.138},{"panel":"B","t":30,"style":"d","x":1.5,"y":0.097},{"panel":"B","t":30,"style":"d","x":1.8,"y":0.063},{"panel":"B","t":30,"style":"d","x":2.1,"y":0.039},{"panel":"B","t":30,"style":"d","x":2.46,"y":0.02},{"panel":"B","t":30,"style":"d","x":2.8,"y":0.011},{"panel":"B","t":30,"style":"d","x":3.3,"y":0.005},{"panel":"B","t":30,"style":"d","x":4,"y":0.002},{"panel":"B","t":30,"style":"d","x":6,"y":0},{"panel":"B","t":30,"style":"d","x":10,"y":0},
{"panel":"B","t":35,"style":"s","x":-10,"y":0.0536},{"panel":"B","t":35,"style":"s","x":-9.9,"y":0.048},{"panel":"B","t":35,"style":"s","x":-9.51,"y":0.0844},{"panel":"B","t":35,"style":"s","x":-9.18,"y":0.061},{"panel":"B","t":35,"style":"s","x":-8.7,"y":0.068},{"panel":"B","t":35,"style":"s","x":-8.27,"y":0.0735},{"panel":"B","t":35,"style":"s","x":-7.85,"y":0.057},{"panel":"B","t":35,"style":"s","x":-7.43,"y":0.077},{"panel":"B","t":35,"style":"s","x":-7.08,"y":0.066},{"panel":"B","t":35,"style":"s","x":-6.66,"y":0.066},{"panel":"B","t":35,"style":"s","x":-6.24,"y":0.086},{"panel":"B","t":35,"style":"s","x":-5.82,"y":0.088},{"panel":"B","t":35,"style":"s","x":-5.4,"y":0.086},{"panel":"B","t":35,"style":"s","x":-4.9,"y":0.084},{"panel":"B","t":35,"style":"s","x":-4.56,"y":0.0815},{"panel":"B","t":35,"style":"s","x":-4.13,"y":0.099},{"panel":"B","t":35,"style":"s","x":-3.58,"y":0.12},{"panel":"B","t":35,"style":"s","x":-3.1,"y":0.15},{"panel":"B","t":35,"style":"s","x":-2.73,"y":0.175},{"panel":"B","t":35,"style":"s","x":-2.03,"y":0.218},{"panel":"B","t":35,"style":"s","x":-1.6,"y":0.255},{"panel":"B","t":35,"style":"s","x":-1.19,"y":0.2925},{"panel":"B","t":35,"style":"s","x":-0.84,"y":0.3},{"panel":"B","t":35,"style":"s","x":-0.42,"y":0.287},{"panel":"B","t":35,"style":"s","x":0,"y":0.255},{"panel":"B","t":35,"style":"s","x":0.35,"y":0.222},{"panel":"B","t":35,"style":"s","x":0.77,"y":0.168},{"panel":"B","t":35,"style":"s","x":1.19,"y":0.118},{"panel":"B","t":35,"style":"s","x":1.5,"y":0.083},{"panel":"B","t":35,"style":"s","x":1.8,"y":0.054},{"panel":"B","t":35,"style":"s","x":2.1,"y":0.033},{"panel":"B","t":35,"style":"s","x":2.46,"y":0.018},{"panel":"B","t":35,"style":"s","x":2.8,"y":0.01},{"panel":"B","t":35,"style":"s","x":3.16,"y":0.005},{"panel":"B","t":35,"style":"s","x":3.6,"y":0.0025},{"panel":"B","t":35,"style":"s","x":4.4,"y":0.001},{"panel":"B","t":35,"style":"s","x":6,"y":0},{"panel":"B","t":35,"style":"s","x":10,"y":0},
{"panel":"B","t":40,"style":"s","x":-10,"y":0.072},{"panel":"B","t":40,"style":"s","x":-9.68,"y":0.05},{"panel":"B","t":40,"style":"s","x":-9.26,"y":0.07},{"panel":"B","t":40,"style":"s","x":-8.83,"y":0.067},{"panel":"B","t":40,"style":"s","x":-8.49,"y":0.0536},{"panel":"B","t":40,"style":"s","x":-8.13,"y":0.07},{"panel":"B","t":40,"style":"s","x":-7.71,"y":0.0554},{"panel":"B","t":40,"style":"s","x":-7.29,"y":0.059},{"panel":"B","t":40,"style":"s","x":-6.94,"y":0.0735},{"panel":"B","t":40,"style":"s","x":-6.52,"y":0.057},{"panel":"B","t":40,"style":"s","x":-6.17,"y":0.068},{"panel":"B","t":40,"style":"s","x":-5.75,"y":0.09},{"panel":"B","t":40,"style":"s","x":-5.4,"y":0.081},{"panel":"B","t":40,"style":"s","x":-4.98,"y":0.0735},{"panel":"B","t":40,"style":"s","x":-4.6,"y":0.08},{"panel":"B","t":40,"style":"s","x":-4.28,"y":0.086},{"panel":"B","t":40,"style":"s","x":-3.86,"y":0.099},{"panel":"B","t":40,"style":"s","x":-3.16,"y":0.153},{"panel":"B","t":40,"style":"s","x":-2.45,"y":0.2},{"panel":"B","t":40,"style":"s","x":-1.61,"y":0.262},{"panel":"B","t":40,"style":"s","x":-1.19,"y":0.276},{"panel":"B","t":40,"style":"s","x":-0.77,"y":0.28},{"panel":"B","t":40,"style":"s","x":-0.42,"y":0.265},{"panel":"B","t":40,"style":"s","x":0,"y":0.235},{"panel":"B","t":40,"style":"s","x":0.35,"y":0.2},{"panel":"B","t":40,"style":"s","x":0.77,"y":0.139},{"panel":"B","t":40,"style":"s","x":1.26,"y":0.081},{"panel":"B","t":40,"style":"s","x":1.6,"y":0.05},{"panel":"B","t":40,"style":"s","x":1.89,"y":0.03},{"panel":"B","t":40,"style":"s","x":2.3,"y":0.015},{"panel":"B","t":40,"style":"s","x":2.7,"y":0.008},{"panel":"B","t":40,"style":"s","x":3.2,"y":0.004},{"panel":"B","t":40,"style":"s","x":4,"y":0.0015},{"panel":"B","t":40,"style":"s","x":6,"y":0},{"panel":"B","t":40,"style":"s","x":10,"y":0}
]
},
"data": {"name": "pts"},
"hconcat": [
{
  "width": 477, "height": 369,
  "transform": [{"filter": "datum.panel === 'A'"}],
  "layer": [
    {"mark": {"type": "line", "strokeWidth": 2, "clip": true},
     "encoding": {
       "x": {"field": "x", "type": "quantitative", "scale": {"domain": [-10, 10], "nice": false}, "axis": {"orient": "bottom", "values": [-10, -5, 0, 5, 10], "title": "Rescaled site (x − t)/√2D₀t", "titlePadding": 2, "titleX": 265}},
       "y": {"field": "y", "type": "quantitative", "scale": {"domain": [0, 0.8], "nice": false}, "axis": {"orient": "left", "values": [0, 0.1, 0.2, 0.3, 0.4, 0.5, 0.6, 0.7, 0.8], "format": ".1f", "title": "Rescaled right weight  ρR × t³⁄⁴", "titlePadding": 10}},
       "color": {"field": "t", "type": "nominal", "scale": {"domain": [15, 20, 25, 30, 35, 40], "range": ["#0000ff", "#008000", "#ff0000", "#00bfbf", "#bf00bf", "#bfbf00"]},
         "legend": {"orient": "none", "legendX": 382, "legendY": 3, "title": null, "symbolType": "stroke", "symbolSize": 625, "symbolStrokeWidth": 2, "labelFont": "Liberation Serif", "labelFontSize": 18, "labelColor": "#000000", "labelOffset": 14, "rowPadding": 0, "padding": 0, "labelExpr": "'t = ' + datum.label"}},
       "strokeDash": {"field": "style", "type": "nominal", "scale": {"domain": ["s", "d"], "range": [[1, 0], [8, 4]]}, "legend": null}
     }},
    {"mark": {"type": "point", "opacity": 0},
     "encoding": {
       "x": {"field": "x", "type": "quantitative", "scale": {"domain": [-10, 10], "nice": false}, "axis": {"orient": "top", "values": [-10, -5, 0, 5, 10], "labels": false, "grid": false, "title": null}},
       "y": {"field": "y", "type": "quantitative", "scale": {"domain": [0, 0.8], "nice": false}, "axis": {"orient": "right", "values": [0, 0.1, 0.2, 0.3, 0.4, 0.5, 0.6, 0.7, 0.8], "labels": false, "grid": false, "title": null}}
     }}
  ],
  "resolve": {"axis": {"x": "independent", "y": "independent"}}
},
{
  "width": 477, "height": 369,
  "transform": [{"filter": "datum.panel === 'B'"}],
  "layer": [
    {"mark": {"type": "line", "strokeWidth": 2, "clip": true},
     "encoding": {
       "x": {"field": "x", "type": "quantitative", "scale": {"domain": [-10, 10], "nice": false}, "axis": {"orient": "bottom", "values": [-10, -5, 0, 5, 10], "title": "Rescaled site (x − t)/√2D₀t", "titlePadding": 2, "titleX": 263}},
       "y": {"field": "y", "type": "quantitative", "scale": {"domain": [0, 0.4], "nice": false}, "axis": {"orient": "left", "values": [0, 0.05, 0.1, 0.15, 0.2, 0.25, 0.3, 0.35, 0.4], "format": ".2f", "title": "Rescaled right weight  ρR × t¹⁄²", "titlePadding": 24}},
       "color": {"field": "t", "type": "nominal", "scale": {"domain": [15, 20, 25, 30, 35, 40], "range": ["#0000ff", "#008000", "#ff0000", "#00bfbf", "#bf00bf", "#bfbf00"]}, "legend": null},
       "strokeDash": {"field": "style", "type": "nominal", "scale": {"domain": ["s", "d"], "range": [[1, 0], [8, 4]]}, "legend": null}
     }},
    {"mark": {"type": "point", "opacity": 0},
     "encoding": {
       "x": {"field": "x", "type": "quantitative", "scale": {"domain": [-10, 10], "nice": false}, "axis": {"orient": "top", "values": [-10, -5, 0, 5, 10], "labels": false, "grid": false, "title": null}},
       "y": {"field": "y", "type": "quantitative", "scale": {"domain": [0, 0.4], "nice": false}, "axis": {"orient": "right", "values": [0, 0.05, 0.1, 0.15, 0.2, 0.25, 0.3, 0.35, 0.4], "labels": false, "grid": false, "title": null}}
     }}
  ],
  "resolve": {"axis": {"x": "independent", "y": "independent"}}
}
]
}
